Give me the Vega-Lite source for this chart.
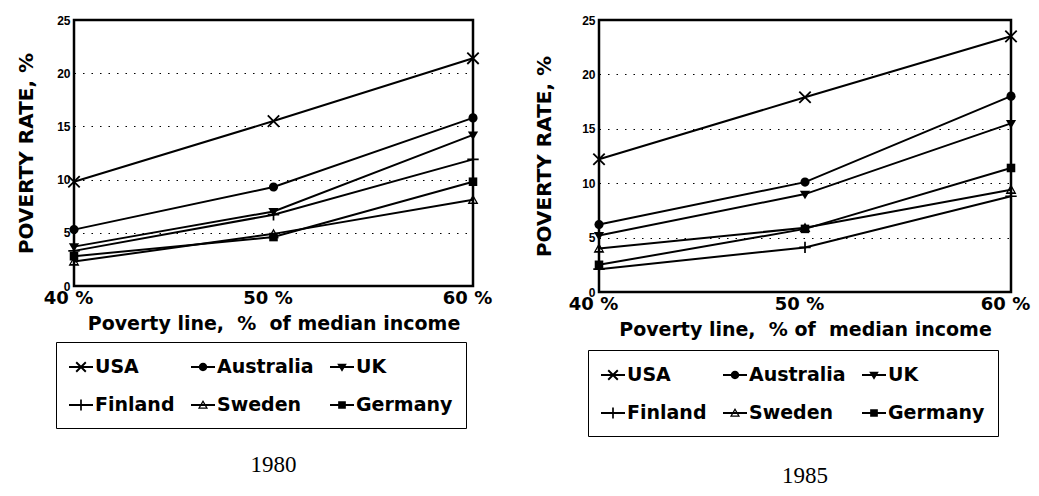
{
  "$schema": "https://vega.github.io/schema/vega-lite/v6.json",
  "background": "white",
  "padding": {"left": 15, "top": 12, "right": 0, "bottom": 2},
  "datasets": {
    "poverty": [
      {"year": 1980, "country": "USA", "line": "40 %", "rate": 9.8},
      {"year": 1980, "country": "USA", "line": "50 %", "rate": 15.5},
      {"year": 1980, "country": "USA", "line": "60 %", "rate": 21.4},
      {"year": 1980, "country": "Australia", "line": "40 %", "rate": 5.3},
      {"year": 1980, "country": "Australia", "line": "50 %", "rate": 9.3},
      {"year": 1980, "country": "Australia", "line": "60 %", "rate": 15.8},
      {"year": 1980, "country": "UK", "line": "40 %", "rate": 3.7},
      {"year": 1980, "country": "UK", "line": "50 %", "rate": 7.0},
      {"year": 1980, "country": "UK", "line": "60 %", "rate": 14.2},
      {"year": 1980, "country": "Finland", "line": "40 %", "rate": 3.3},
      {"year": 1980, "country": "Finland", "line": "50 %", "rate": 6.7},
      {"year": 1980, "country": "Finland", "line": "60 %", "rate": 11.9},
      {"year": 1980, "country": "Sweden", "line": "40 %", "rate": 2.3},
      {"year": 1980, "country": "Sweden", "line": "50 %", "rate": 4.9},
      {"year": 1980, "country": "Sweden", "line": "60 %", "rate": 8.1},
      {"year": 1980, "country": "Germany", "line": "40 %", "rate": 2.8},
      {"year": 1980, "country": "Germany", "line": "50 %", "rate": 4.6},
      {"year": 1980, "country": "Germany", "line": "60 %", "rate": 9.8},
      {"year": 1985, "country": "USA", "line": "40 %", "rate": 12.2},
      {"year": 1985, "country": "USA", "line": "50 %", "rate": 17.9},
      {"year": 1985, "country": "USA", "line": "60 %", "rate": 23.5},
      {"year": 1985, "country": "Australia", "line": "40 %", "rate": 6.2},
      {"year": 1985, "country": "Australia", "line": "50 %", "rate": 10.1},
      {"year": 1985, "country": "Australia", "line": "60 %", "rate": 18.0},
      {"year": 1985, "country": "UK", "line": "40 %", "rate": 5.2},
      {"year": 1985, "country": "UK", "line": "50 %", "rate": 9.0},
      {"year": 1985, "country": "UK", "line": "60 %", "rate": 15.5},
      {"year": 1985, "country": "Finland", "line": "40 %", "rate": 2.1},
      {"year": 1985, "country": "Finland", "line": "50 %", "rate": 4.1},
      {"year": 1985, "country": "Finland", "line": "60 %", "rate": 8.8},
      {"year": 1985, "country": "Sweden", "line": "40 %", "rate": 4.0},
      {"year": 1985, "country": "Sweden", "line": "50 %", "rate": 5.9},
      {"year": 1985, "country": "Sweden", "line": "60 %", "rate": 9.4},
      {"year": 1985, "country": "Germany", "line": "40 %", "rate": 2.5},
      {"year": 1985, "country": "Germany", "line": "50 %", "rate": 5.8},
      {"year": 1985, "country": "Germany", "line": "60 %", "rate": 11.4}
    ]
  },
  "config": {
    "view": {"stroke": "black", "strokeWidth": 2.5},
    "font": "DejaVu Sans",
    "axisY": {
      "values": [0, 5, 10, 15, 20, 25],
      "ticks": false,
      "domain": false,
      "grid": true,
      "gridColor": "black",
      "gridDash": [1.5, 7],
      "gridWidth": 1.2,
      "gridOpacity": 1,
      "labelFont": "Liberation Sans Narrow, Liberation Sans",
      "labelFontWeight": "bold",
      "labelFontSize": 12,
      "labelColor": "black",
      "labelPadding": 4,
      "titleFont": "DejaVu Sans",
      "titleFontWeight": "bold",
      "titleFontSize": 20,
      "titleColor": "black",
      "titlePadding": 20
    },
    "axisX": {
      "ticks": false,
      "domain": false,
      "grid": false,
      "labelAngle": 0,
      "labelFont": "DejaVu Sans",
      "labelFontWeight": "bold",
      "labelFontSize": 18,
      "labelColor": "black",
      "labelPadding": 3,
      "labelOffset": -6,
      "labelOverlap": false,
      "titleFont": "DejaVu Sans",
      "titleFontWeight": "bold",
      "titleFontSize": 19,
      "titleColor": "black",
      "titlePadding": 7
    },
    "legend": {
      "orient": "none",
      "direction": "horizontal",
      "columns": 3,
      "title": null,
      "labelFont": "DejaVu Sans",
      "labelFontWeight": "bold",
      "labelFontSize": 19,
      "labelColor": "black",
      "labelOffset": 2,
      "labelLimit": 0,
      "symbolSize": 576,
      "symbolFillColor": "black",
      "symbolStrokeWidth": 0,
      "symbolOpacity": 1,
      "strokeColor": "black",
      "padding": 13,
      "rowPadding": 16,
      "columnPadding": 16
    },
    "title": {
      "orient": "bottom",
      "font": "Liberation Serif",
      "fontSize": 23,
      "fontWeight": "normal",
      "color": "black"
    }
  },
  "hconcat": [
    {
      "width": 399,
      "height": 266,
      "title": {"text": "1980", "offset": 25},
      "data": {"name": "poverty"},
      "transform": [{"filter": "datum.year == 1980"}],
      "encoding": {
        "x": {"field": "line", "type": "ordinal", "scale": {"type": "point", "padding": 0, "domain": ["40 %", "50 %", "60 %"]}, "axis": {"title": "Poverty line,\u00a0 %\u00a0 of median income"}},
        "y": {"field": "rate", "type": "quantitative", "scale": {"domain": [0, 25], "nice": false}, "axis": {"title": "POVERTY RATE, %"}}
      },
      "layer": [
        {"mark": {"type": "line", "color": "black", "strokeWidth": 2}, "encoding": {"detail": {"field": "country"}}},
        {
          "mark": {"type": "point", "filled": true, "color": "black", "size": 130, "opacity": 1, "strokeWidth": 0},
          "encoding": {"shape": {"field": "country", "legend": null, "scale": {
            "domain": ["USA", "Australia", "UK", "Finland", "Sweden", "Germany"],
            "range": [
              "M-0.887,-1.113L1.113,0.887L0.887,1.113L-1.113,-0.887Z M-0.887,1.113L-1.113,0.887L0.887,-1.113L1.113,-0.887Z",
              "M-0.8,0A0.8,0.8 0 1,1 0.8,0A0.8,0.8 0 1,1 -0.8,0Z",
              "M-0.9,-0.6L0.9,-0.6L0,0.9Z",
              "M-1,-0.15H1V0.15H-1Z M-0.15,-1H0.15V1H-0.15Z",
              "M0,-0.95L0.95,0.75L-0.95,0.75Z M0,-0.45L-0.55,0.45L0.55,0.45Z",
              "M-0.75,-0.75H0.75V0.75H-0.75Z"
            ]}}}
        },
        {
          "mark": {"type": "point", "filled": true, "color": "black", "size": 576, "opacity": 0},
          "encoding": {"shape": {"field": "country", "legend": {"orient": "none", "legendX": -18, "legendY": 322, "encode": {"legend": {"update": {"strokeWidth": {"value": 2}}}}}, "scale": {
            "domain": ["USA", "Australia", "UK", "Finland", "Sweden", "Germany"],
            "range": [
              "M-1,-0.09H1V0.09H-1Z M-0.343,-0.457L0.457,0.343L0.343,0.457L-0.457,-0.343Z M-0.343,0.457L-0.457,0.343L0.343,-0.457L0.457,-0.343Z",
              "M-1,-0.09H1V0.09H-1Z M-0.35,0A0.35,0.35 0 1,1 0.35,0A0.35,0.35 0 1,1 -0.35,0Z",
              "M-1,-0.09H1V0.09H-1Z M-0.4,-0.28L0.4,-0.28L0,0.4Z",
              "M-1,-0.09H1V0.09H-1Z M-0.07,-0.45H0.07V0.45H-0.07Z",
              "M-1,-0.09H1V0.09H-1Z M0,-0.42L0.42,0.32L-0.42,0.32Z M0,-0.2L-0.24,0.2L0.24,0.2Z",
              "M-1,-0.09H1V0.09H-1Z M-0.32,-0.32H0.32V0.32H-0.32Z"
            ]}}}
        }
      ],
      "resolve": {"scale": {"shape": "independent"}}
    },
    {
      "width": 412,
      "height": 272,
      "title": {"text": "1985", "offset": 28},
      "data": {"name": "poverty"},
      "transform": [{"filter": "datum.year == 1985"}],
      "encoding": {
        "x": {"field": "line", "type": "ordinal", "scale": {"type": "point", "padding": 0, "domain": ["40 %", "50 %", "60 %"]}, "axis": {"title": "Poverty line,\u00a0 % of\u00a0 median income"}},
        "y": {"field": "rate", "type": "quantitative", "scale": {"domain": [0, 25], "nice": false}, "axis": {"title": "POVERTY RATE, %", "titlePadding": 27}}
      },
      "layer": [
        {"mark": {"type": "line", "color": "black", "strokeWidth": 2}, "encoding": {"detail": {"field": "country"}}},
        {
          "mark": {"type": "point", "filled": true, "color": "black", "size": 130, "opacity": 1, "strokeWidth": 0},
          "encoding": {"shape": {"field": "country", "legend": null, "scale": {
            "domain": ["USA", "Australia", "UK", "Finland", "Sweden", "Germany"],
            "range": [
              "M-0.887,-1.113L1.113,0.887L0.887,1.113L-1.113,-0.887Z M-0.887,1.113L-1.113,0.887L0.887,-1.113L1.113,-0.887Z",
              "M-0.8,0A0.8,0.8 0 1,1 0.8,0A0.8,0.8 0 1,1 -0.8,0Z",
              "M-0.9,-0.6L0.9,-0.6L0,0.9Z",
              "M-1,-0.15H1V0.15H-1Z M-0.15,-1H0.15V1H-0.15Z",
              "M0,-0.95L0.95,0.75L-0.95,0.75Z M0,-0.45L-0.55,0.45L0.55,0.45Z",
              "M-0.75,-0.75H0.75V0.75H-0.75Z"
            ]}}}
        },
        {
          "mark": {"type": "point", "filled": true, "color": "black", "size": 576, "opacity": 0},
          "encoding": {"shape": {"field": "country", "legend": {"orient": "none", "legendX": -11, "legendY": 330, "encode": {"legend": {"update": {"strokeWidth": {"value": 2}}}}}, "scale": {
            "domain": ["USA", "Australia", "UK", "Finland", "Sweden", "Germany"],
            "range": [
              "M-1,-0.09H1V0.09H-1Z M-0.343,-0.457L0.457,0.343L0.343,0.457L-0.457,-0.343Z M-0.343,0.457L-0.457,0.343L0.343,-0.457L0.457,-0.343Z",
              "M-1,-0.09H1V0.09H-1Z M-0.35,0A0.35,0.35 0 1,1 0.35,0A0.35,0.35 0 1,1 -0.35,0Z",
              "M-1,-0.09H1V0.09H-1Z M-0.4,-0.28L0.4,-0.28L0,0.4Z",
              "M-1,-0.09H1V0.09H-1Z M-0.07,-0.45H0.07V0.45H-0.07Z",
              "M-1,-0.09H1V0.09H-1Z M0,-0.42L0.42,0.32L-0.42,0.32Z M0,-0.2L-0.24,0.2L0.24,0.2Z",
              "M-1,-0.09H1V0.09H-1Z M-0.32,-0.32H0.32V0.32H-0.32Z"
            ]}}}
        }
      ],
      "resolve": {"scale": {"shape": "independent"}}
    }
  ],
  "spacing": 40,
  "resolve": {"scale": {"shape": "independent"}, "legend": {"shape": "independent"}}
}
